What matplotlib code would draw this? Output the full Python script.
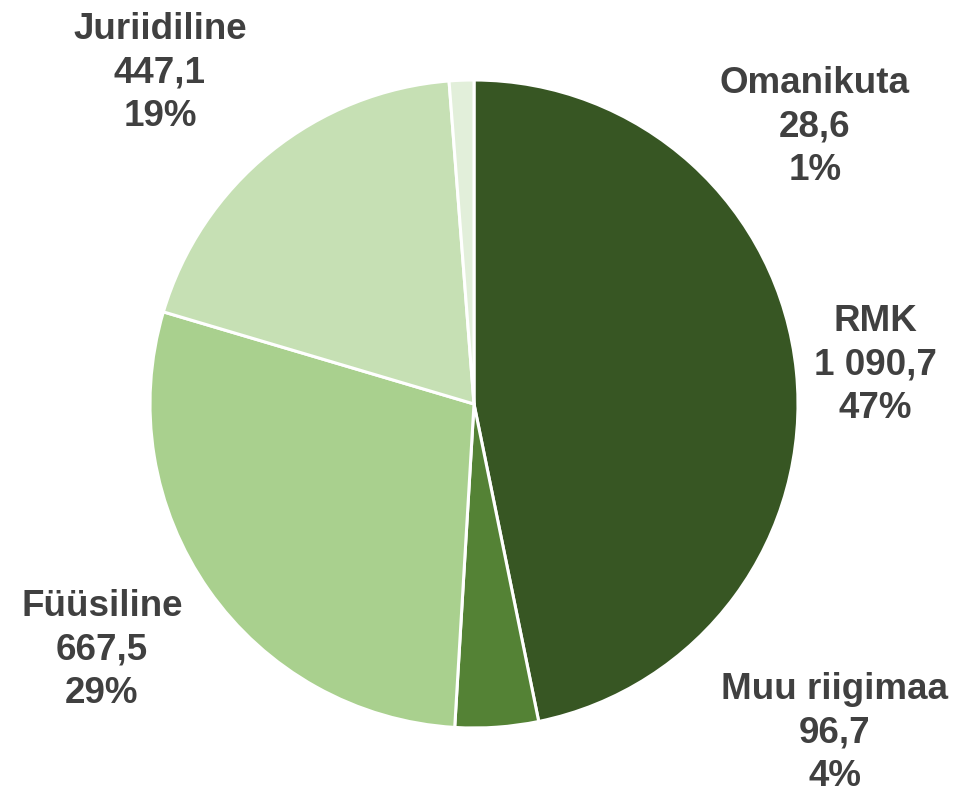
import matplotlib.pyplot as plt

# andmed (tuh ha)
kategooriad = ['RMK', 'Muu riigimaa', 'Füüsiline', 'Juriidiline', 'Omanikuta']
pindala = [1090.7, 96.7, 667.5, 447.1, 28.6]
varvid = ['#375623', '#548235', '#A9D08E', '#C6E0B4', '#E2EFDA']

# siltide asukohad pikslites (x, y ülevalt)
sildi_koht = [(875, 365), (835, 733), (102, 650), (160, 73), (815, 127)]

plt.rcParams['font.family'] = ['Liberation Sans', 'DejaVu Sans']

W, H = 956, 792
fig = plt.figure(figsize=(W / 100, H / 100), dpi=100)
ax = fig.add_axes([0, 0, 1, 1])

ax.pie(pindala, colors=varvid, startangle=90, counterclock=False,
       center=(474, H - 404), radius=324, frame=True,
       wedgeprops=dict(edgecolor='white', linewidth=2.2))
ax.set_xlim(0, W)
ax.set_ylim(0, H)
ax.set_aspect('equal')
ax.axis('off')

kokku = sum(pindala)
def vorming(v):
    s = f'{v:,.1f}'.replace(',', ' ').replace('.', ',')
    return s

for nimi, v, (x, y) in zip(kategooriad, pindala, sildi_koht):
    tekst = f'{nimi}\n{vorming(v)}\n{round(v / kokku * 100)}%'
    ax.text(x, H - y, tekst, ha='center', va='center', fontsize=26.5,
            fontweight='bold', color='#404040', linespacing=1.3)

fig.savefig('out.png', dpi=100)
